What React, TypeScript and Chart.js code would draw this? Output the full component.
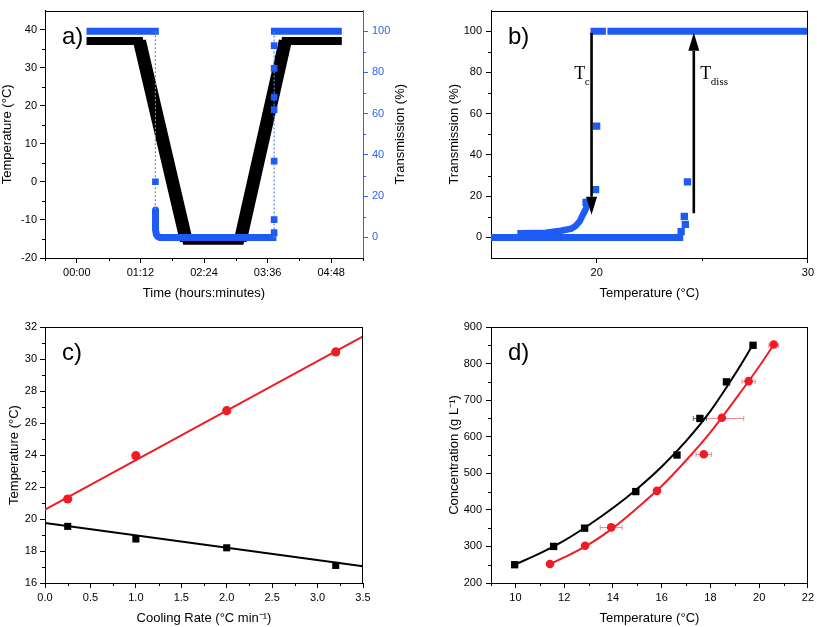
import React, { useEffect, useRef } from "react";
import { Chart, registerables } from "chart.js";
Chart.register(...registerables);

const FONT = "'Liberation Sans', Arial, Helvetica, sans-serif";
const SERIF = "'Liberation Serif', 'Times New Roman', serif";
const BLUE = "#1e5bf5";
const BLUE_DOT = "#5b86ff";
const BLUE_AXIS = "#2a64f6";
const RED = "#f01c24";
const RED_ERR = "#f48a90";
const GREY_ERR = "#666666";

// ---------------- Panel a) ----------------
const aTicksX = [0, 72, 144, 216, 288];
const aMinorX = [-36, 36, 108, 180, 252, 324];
const aTicksY = [-20, -10, 0, 10, 20, 30, 40];
const aMinorY = [-15, -5, 5, 15, 25, 35];
const aTicksY2 = [0, 20, 40, 60, 80, 100];
const aMinorY2 = [10, 30, 50, 70, 90];
const aTempTime = [11, 71, 124, 185, 236, 300];
const aTempValue = [37, 37, -15.5, -15.5, 37, 37];
const aTopTime1 = [11, 92.8];
const aTopValue1 = [100, 100];
const aLowTime = [89, 89, 89.3, 90, 91.5, 94, 226];
const aLowValue = [13.3, 7, 3.5, 1.5, 0.4, 0, 0];
const aTopTime2 = [219.7, 300];
const aTopValue2 = [100, 100];
const aDropTime = [89, 89, 89];
const aDropValue = [100, 27, 13.3];
const aRiseTime = [223.4, 223.4, 223.4, 223.4, 223.4, 223.4, 223.4, 223.4, 223.4];
const aRiseValue = [0, 2.3, 8.6, 37, 62, 68, 82, 93, 100];

// ---------------- Panel b) ----------------
const bTicksX = [20, 30];
const bMinorX = [25];
const bTicksY = [0, 20, 40, 60, 80, 100];
const bMinorY = [10, 30, 50, 70, 90];
const bTopTemp1 = [19.71, 20.44];
const bTopTemp2 = [20.51, 30];
const bTopValue = [100, 100];
const bBaseTemp = [15, 24.1];
const bBaseValue = [0, 0];
const bTailTemp = [16.4, 17.6, 18.3, 18.8, 19.0, 19.2, 19.35, 19.5, 19.55];
const bTailValue = [2.0, 2.3, 3.2, 4.2, 5.5, 7.8, 11, 14, 17];
const bCoolTemp = [19.5, 19.95, 20.0];
const bCoolValue = [17, 23.2, 54];
const bHeatTemp = [24.0, 24.2, 24.15, 24.3];
const bHeatValue = [2.8, 6.3, 10.2, 26.9];
const bArrowX = [19.76, 24.6];
const bArrowFrom = [99.2, 11.7];
const bArrowTo = [11, 99.2];
const bLabelMain = ["T", "T"];
const bLabelSub = ["c", "diss"];
const bLabelX = [18.94, 24.91];
const bLabelY = [76.6, 76.6];

// ---------------- Panel c) ----------------
const cTicksX = [0, 0.5, 1, 1.5, 2, 2.5, 3, 3.5];
const cMinorX = [0.25, 0.75, 1.25, 1.75, 2.25, 2.75, 3.25];
const cTicksY = [16, 18, 20, 22, 24, 26, 28, 30, 32];
const cMinorY = [17, 19, 21, 23, 25, 27, 29, 31];
const cRate = [0.25, 1.0, 2.0, 3.2];
const cTdiss = [21.25, 23.96, 26.77, 30.44];
const cTdissErr = [0.15, 0.2, 0, 0];
const cTc = [19.54, 18.75, 18.2, 17.1];
const cFitRate = [0, 3.5];
const cFitTdiss = [20.58, 31.42];
const cFitTc = [19.75, 17.04];

// ---------------- Panel d) ----------------
const dTicksX = [10, 12, 14, 16, 18, 20, 22];
const dMinorX = [9, 11, 13, 15, 17, 19, 21];
const dTicksY = [200, 300, 400, 500, 600, 700, 800, 900];
const dMinorY = [250, 350, 450, 550, 650, 750, 850];
const dConc = [250, 300, 350, 450, 550, 650, 750, 850];
const dTcTemp = [9.97, 11.57, 12.84, 14.94, 16.63, 17.57, 18.66, 19.75];
const dTcErr = [0, 0, 0, 0, 0, 0.27, 0, 0];
const dTdConc = [252, 302, 352, 452, 552, 652, 752, 852];
const dTdTemp = [11.42, 12.86, 13.93, 15.81, 17.73, 18.47, 19.57, 20.6];
const dTdErr = [0, 0, 0.45, 0, 0.32, 0.9, 0.27, 0.2];
const dFitTcTemp = [9.97, 11, 12, 13, 14, 15, 16, 17, 18, 19, 19.75];
const dFitTcConc = [250, 281, 316, 358, 405, 458, 518, 588, 670, 770, 852];
const dFitTdTemp = [11.42, 12, 13, 14, 15, 16, 17, 18, 19, 20, 20.6];
const dFitTdConc = [252, 270, 305, 350, 405, 465, 535, 612, 700, 792, 852];

type P = { x: number; y: number | null };
const pts = (xs: number[], ys: (number | null)[]): P[] => xs.map((x, i) => ({ x, y: ys[i] }));
const joinSegs = (...segs: P[][]): P[] =>
  segs.flatMap((s, i) => (i === 0 ? s : [{ x: s[0].x, y: null }, ...s]));

const fmtTime = (m: number) =>
  `${String(Math.floor(m / 60)).padStart(2, "0")}:${String(Math.round(m % 60)).padStart(2, "0")}`;

function linAxis(o: {
  position: string;
  min: number;
  max: number;
  ticks: number[];
  size: number;
  fmt?: (v: number) => string;
  title?: string;
  titlePad?: number;
  color?: string;
  labelPad?: number;
}) {
  const color = o.color ?? "#000";
  const horizontal = o.position === "bottom";
  return {
    type: "linear",
    position: o.position,
    min: o.min,
    max: o.max,
    afterBuildTicks: (s: any) => {
      s.ticks = o.ticks.map((v) => ({ value: v }));
    },
    afterFit: (s: any) => {
      if (horizontal) s.height = o.size;
      else s.width = o.size;
    },
    grid: { display: true, drawOnChartArea: false, drawTicks: true, tickLength: 5, tickWidth: 1, color, lineWidth: 1 },
    border: { display: true, color, width: 1 },
    ticks: {
      autoSkip: false,
      maxRotation: 0,
      minRotation: 0,
      padding: o.labelPad ?? 3,
      color,
      font: { family: FONT, size: 11 },
      callback: (v: any) => (o.fmt ? o.fmt(Number(v)) : String(v)),
    },
    title: o.title
      ? {
          display: true,
          text: o.title,
          color: "#000",
          font: { family: FONT, size: 13 },
          padding: { top: o.titlePad ?? 0, bottom: o.titlePad ?? 0 },
        }
      : { display: false },
  };
}

type MinorSpec = { axis: string; values: number[]; color?: string };
function decor(spec: {
  label: string;
  minors: MinorSpec[];
  rightBorder?: boolean;
  rightTitle?: { text: string; x: number };
  before?: (chart: any) => void;
  after?: (chart: any) => void;
}) {
  return {
    id: "decor",
    beforeDatasetsDraw(chart: any) {
      spec.before?.(chart);
    },
    afterDatasetsDraw(chart: any) {
      spec.after?.(chart);
    },
    afterDraw(chart: any) {
      const { ctx, chartArea: ca } = chart;
      ctx.save();
      ctx.lineWidth = 1;
      ctx.strokeStyle = "#000";
      ctx.beginPath();
      const t = Math.round(ca.top) + 0.5;
      ctx.moveTo(ca.left, t);
      ctx.lineTo(ca.right, t);
      if (spec.rightBorder !== false) {
        const r = Math.round(ca.right) - 0.5;
        ctx.moveTo(r, ca.top);
        ctx.lineTo(r, ca.bottom);
      }
      ctx.stroke();
      for (const m of spec.minors) {
        const s = chart.scales[m.axis];
        ctx.strokeStyle = m.color ?? "#000";
        ctx.beginPath();
        for (const v of m.values) {
          const p = Math.round(s.getPixelForValue(v)) + 0.5;
          if (s.isHorizontal()) {
            ctx.moveTo(p, s.top);
            ctx.lineTo(p, s.top + 3);
          } else if (s.position === "left") {
            ctx.moveTo(s.right, p);
            ctx.lineTo(s.right - 3, p);
          } else {
            ctx.moveTo(s.left, p);
            ctx.lineTo(s.left + 3, p);
          }
        }
        ctx.stroke();
      }
      ctx.fillStyle = "#000";
      ctx.font = `24px ${FONT}`;
      ctx.textAlign = "left";
      ctx.textBaseline = "alphabetic";
      ctx.fillText(spec.label, ca.left + 17, ca.top + 33);
      if (spec.rightTitle) {
        ctx.save();
        ctx.translate(spec.rightTitle.x, (ca.top + ca.bottom) / 2);
        ctx.rotate(-Math.PI / 2);
        ctx.font = `13px ${FONT}`;
        ctx.textAlign = "center";
        ctx.textBaseline = "middle";
        ctx.fillText(spec.rightTitle.text, 0, 0);
        ctx.restore();
      }
      ctx.restore();
    },
  };
}

const baseOptions = (padding: any, scales: any) => ({
  responsive: false,
  maintainAspectRatio: false,
  animation: false,
  devicePixelRatio: 1,
  events: [],
  layout: { padding },
  plugins: { legend: { display: false }, tooltip: { enabled: false } },
  scales,
});

function configA(): any {
  return {
    type: "scatter",
    data: {
      datasets: [
        {
          data: pts(aRiseTime, aRiseValue),
          yAxisID: "y2",
          showLine: true,
          borderColor: BLUE_DOT,
          borderWidth: 1.2,
          borderDash: [2, 2],
          pointStyle: "rect",
          pointRadius: aRiseValue.map((v) => (v > 0 && v < 100 ? 4.7 : 0)),
          pointBackgroundColor: BLUE,
          pointBorderWidth: 0,
        },
        {
          data: pts(aDropTime, aDropValue),
          yAxisID: "y2",
          showLine: true,
          borderColor: BLUE_DOT,
          borderWidth: 1.2,
          borderDash: [2, 2],
          pointStyle: "rect",
          pointRadius: aDropValue.map((v) => (v > 20 && v < 100 ? 4.7 : 0)),
          pointBackgroundColor: BLUE,
          pointBorderWidth: 0,
        },
        {
          data: joinSegs(pts(aTopTime1, aTopValue1), pts(aLowTime, aLowValue), pts(aTopTime2, aTopValue2)),
          yAxisID: "y2",
          showLine: true,
          spanGaps: false,
          borderColor: BLUE,
          borderWidth: 7,
          borderCapStyle: "butt",
          borderJoinStyle: "round",
          pointRadius: 0,
        },
        {
          data: joinSegs(pts(aTempTime.slice(1, 3), aTempValue.slice(1, 3)), pts(aTempTime.slice(3, 5), aTempValue.slice(3, 5))),
          yAxisID: "y",
          showLine: true,
          spanGaps: false,
          borderColor: "#000",
          borderWidth: 13,
          borderCapStyle: "butt",
          pointRadius: 0,
        },
        {
          data: pts(aTempTime, aTempValue),
          yAxisID: "y",
          showLine: true,
          borderColor: "#000",
          borderWidth: 8,
          borderCapStyle: "butt",
          borderJoinStyle: "miter",
          pointRadius: 0,
        },
      ],
    },
    options: baseOptions(
      { top: 2, right: 0, bottom: 0, left: 0 },
      {
        x: linAxis({ position: "bottom", min: -36, max: 324, ticks: aTicksX, size: 52, fmt: fmtTime, title: "Time (hours:minutes)", titlePad: 9 }),
        y: linAxis({ position: "left", min: -20, max: 45, ticks: aTicksY, size: 45, title: "Temperature (°C)", titlePad: 0 }),
        y2: linAxis({ position: "right", min: -10, max: 110, ticks: aTicksY2, size: 45, color: BLUE_AXIS, labelPad: 4 }),
      }
    ),
    plugins: [
      decor({
        label: "a)",
        rightBorder: false,
        minors: [
          { axis: "x", values: aMinorX },
          { axis: "y", values: aMinorY },
          { axis: "y2", values: aMinorY2, color: BLUE_AXIS },
        ],
        rightTitle: { text: "Transmission (%)", x: 400 },
      }),
    ],
  };
}

function drawArrow(ctx: any, x: number, y0: number, y1: number) {
  const dir = y1 > y0 ? 1 : -1;
  const headLen = 18;
  const half = 5.5;
  ctx.beginPath();
  ctx.moveTo(x, y0);
  ctx.lineTo(x, y1 - dir * headLen);
  ctx.stroke();
  ctx.beginPath();
  ctx.moveTo(x, y1);
  ctx.lineTo(x - half, y1 - dir * headLen);
  ctx.lineTo(x + half, y1 - dir * headLen);
  ctx.closePath();
  ctx.fill();
}

function configB(): any {
  return {
    type: "scatter",
    data: {
      datasets: [
        {
          data: joinSegs(pts(bCoolTemp, bCoolValue), pts(bHeatTemp, bHeatValue)),
          showLine: false,
          pointStyle: "rect",
          pointRadius: 5.2,
          pointBackgroundColor: BLUE,
          pointBorderWidth: 0,
        },
        {
          data: joinSegs(pts(bTopTemp1, bTopValue), pts(bTopTemp2, bTopValue), pts(bBaseTemp, bBaseValue)),
          showLine: true,
          spanGaps: false,
          borderColor: BLUE,
          borderWidth: 7,
          borderCapStyle: "butt",
          pointRadius: 0,
        },
        {
          data: pts(bTailTemp, bTailValue),
          showLine: true,
          borderColor: BLUE,
          borderWidth: 6.5,
          borderCapStyle: "square",
          borderJoinStyle: "miter",
          pointRadius: 0,
        },
      ],
    },
    options: baseOptions(
      { top: 2, right: 7, bottom: 0, left: 0 },
      {
        x: linAxis({ position: "bottom", min: 15, max: 30, ticks: bTicksX, size: 52, title: "Temperature (°C)", titlePad: 9 }),
        y: linAxis({ position: "left", min: -10, max: 110, ticks: bTicksY, size: 83, title: "Transmission (%)", titlePad: 39, labelPad: 4 }),
      }
    ),
    plugins: [
      decor({
        label: "b)",
        minors: [
          { axis: "x", values: bMinorX },
          { axis: "y", values: bMinorY },
        ],
        after: (chart: any) => {
          const { ctx } = chart;
          const sx = chart.scales.x;
          const sy = chart.scales.y;
          ctx.save();
          ctx.strokeStyle = "#000";
          ctx.fillStyle = "#000";
          ctx.lineWidth = 2.6;
          bArrowX.forEach((v, i) => {
            drawArrow(ctx, sx.getPixelForValue(v), sy.getPixelForValue(bArrowFrom[i]), sy.getPixelForValue(bArrowTo[i]));
          });
          ctx.textAlign = "left";
          ctx.textBaseline = "alphabetic";
          bLabelMain.forEach((t, i) => {
            const x = sx.getPixelForValue(bLabelX[i]);
            const y = sy.getPixelForValue(bLabelY[i]);
            ctx.font = `18px ${SERIF}`;
            ctx.fillText(t, x, y);
            const w = ctx.measureText(t).width;
            ctx.font = `11px ${SERIF}`;
            ctx.fillText(bLabelSub[i], x + w - 0.5, y + 5.5);
          });
          ctx.restore();
        },
      }),
    ],
  };
}

function drawYErr(ctx: any, sx: any, sy: any, xs: number[], ys: number[], err: number[], color: string) {
  ctx.save();
  ctx.strokeStyle = color;
  ctx.lineWidth = 1;
  ctx.beginPath();
  xs.forEach((x, i) => {
    if (!err[i]) return;
    const px = Math.round(sx.getPixelForValue(x)) + 0.5;
    const a = sy.getPixelForValue(ys[i] - err[i]);
    const b = sy.getPixelForValue(ys[i] + err[i]);
    ctx.moveTo(px, a);
    ctx.lineTo(px, b);
    ctx.moveTo(px - 2.5, a);
    ctx.lineTo(px + 2.5, a);
    ctx.moveTo(px - 2.5, b);
    ctx.lineTo(px + 2.5, b);
  });
  ctx.stroke();
  ctx.restore();
}

function drawXErr(ctx: any, sx: any, sy: any, xs: number[], ys: number[], err: number[], color: string) {
  ctx.save();
  ctx.strokeStyle = color;
  ctx.lineWidth = 1;
  ctx.beginPath();
  xs.forEach((x, i) => {
    if (!err[i]) return;
    const py = Math.round(sy.getPixelForValue(ys[i])) + 0.5;
    const a = sx.getPixelForValue(x - err[i]);
    const b = sx.getPixelForValue(x + err[i]);
    ctx.moveTo(a, py);
    ctx.lineTo(b, py);
    ctx.moveTo(a, py - 2.5);
    ctx.lineTo(a, py + 2.5);
    ctx.moveTo(b, py - 2.5);
    ctx.lineTo(b, py + 2.5);
  });
  ctx.stroke();
  ctx.restore();
}

function configC(): any {
  return {
    type: "scatter",
    data: {
      datasets: [
        { data: pts(cRate, cTdiss), pointStyle: "circle", pointRadius: 4.6, pointBackgroundColor: RED, pointBorderWidth: 0 },
        { data: pts(cRate, cTc), pointStyle: "rect", pointRadius: 5, pointBackgroundColor: "#000", pointBorderWidth: 0 },
        { data: pts(cFitRate, cFitTdiss), showLine: true, borderColor: RED, borderWidth: 2, pointRadius: 0 },
        { data: pts(cFitRate, cFitTc), showLine: true, borderColor: "#000", borderWidth: 2, pointRadius: 0 },
      ],
    },
    options: baseOptions(
      { top: 17, right: 45, bottom: 0, left: 0 },
      {
        x: linAxis({ position: "bottom", min: 0, max: 3.5, ticks: cTicksX, size: 44, fmt: (v) => v.toFixed(1), title: "Cooling Rate (°C min⁻¹)", titlePad: 1 }),
        y: linAxis({ position: "left", min: 16, max: 32, ticks: cTicksY, size: 45, title: "Temperature (°C)", titlePad: 7 }),
      }
    ),
    plugins: [
      decor({
        label: "c)",
        minors: [
          { axis: "x", values: cMinorX },
          { axis: "y", values: cMinorY },
        ],
        before: (chart: any) => drawYErr(chart.ctx, chart.scales.x, chart.scales.y, cRate, cTdiss, cTdissErr, RED_ERR),
      }),
    ],
  };
}

function configD(): any {
  return {
    type: "scatter",
    data: {
      datasets: [
        { data: pts(dTcTemp, dConc), pointStyle: "rect", pointRadius: 5.2, pointBackgroundColor: "#000", pointBorderWidth: 0 },
        { data: pts(dTdTemp, dTdConc), pointStyle: "circle", pointRadius: 4.3, pointBackgroundColor: RED, pointBorderWidth: 0 },
        { data: pts(dFitTcTemp, dFitTcConc), showLine: true, borderColor: "#000", borderWidth: 2, pointRadius: 0, cubicInterpolationMode: "monotone" },
        { data: pts(dFitTdTemp, dFitTdConc), showLine: true, borderColor: RED, borderWidth: 2, pointRadius: 0, cubicInterpolationMode: "monotone" },
      ],
    },
    options: baseOptions(
      { top: 17, right: 7, bottom: 0, left: 0 },
      {
        x: linAxis({ position: "bottom", min: 9, max: 22, ticks: dTicksX, size: 44, title: "Temperature (°C)", titlePad: 1 }),
        y: linAxis({ position: "left", min: 200, max: 900, ticks: dTicksY, size: 83, title: "Concentration (g L⁻¹)", titlePad: 39, labelPad: 4 }),
      }
    ),
    plugins: [
      decor({
        label: "d)",
        minors: [
          { axis: "x", values: dMinorX },
          { axis: "y", values: dMinorY },
        ],
        before: (chart: any) => {
          drawXErr(chart.ctx, chart.scales.x, chart.scales.y, dTdTemp, dTdConc, dTdErr, RED_ERR);
          drawXErr(chart.ctx, chart.scales.x, chart.scales.y, dTcTemp, dConc, dTcErr, GREY_ERR);
        },
      }),
    ],
  };
}

function Panel(props: { make: () => any; left: number; top: number; width: number; height: number }) {
  const ref = useRef<HTMLCanvasElement>(null);
  useEffect(() => {
    const chart = new Chart(ref.current as HTMLCanvasElement, props.make());
    return () => chart.destroy();
  }, []);
  return (
    <canvas
      ref={ref}
      width={props.width}
      height={props.height}
      style={{ position: "absolute", left: props.left, top: props.top, width: props.width, height: props.height }}
    />
  );
}

export default function App() {
  return (
    <div style={{ position: "fixed", left: 0, top: 0, width: 817, height: 627, background: "#fff", overflow: "hidden" }}>
      <Panel make={configA} left={0} top={0} width={408} height={310} />
      <Panel make={configB} left={408} top={0} width={409} height={310} />
      <Panel make={configC} left={0} top={310} width={408} height={317} />
      <Panel make={configD} left={408} top={310} width={409} height={317} />
    </div>
  );
}
